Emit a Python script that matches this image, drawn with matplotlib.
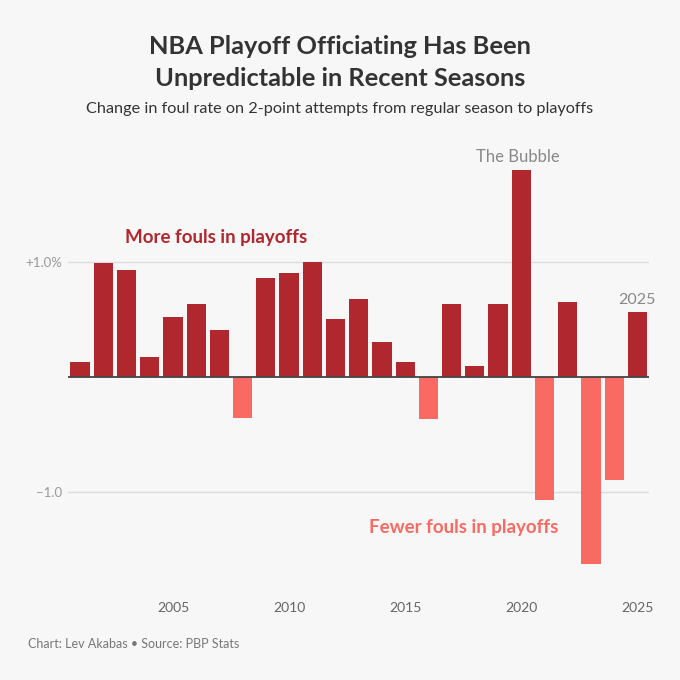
import matplotlib
matplotlib.use("Agg")
from matplotlib import pyplot as plt

# Change in foul rate on 2-point attempts (percentage points), playoffs minus regular season
seasons = list(range(2001, 2026))
change = [0.13, 0.99, 0.93, 0.17, 0.52, 0.63, 0.41, -0.36, 0.86, 0.90,
          1.00, 0.50, 0.68, 0.30, 0.13, -0.37, 0.63, 0.09, 0.63, 1.80,
          -1.07, 0.65, -1.63, -0.90, 0.56]
xtick_years = [2005, 2010, 2015, 2020, 2025]
ytick_vals = [-1.0, 1.0]
ytick_labels = ['\u22121.0', '+1.0%']

DARK = '#b0272e'
LIGHT = '#f96a62'
BG = '#f7f7f7'
FONT = 'Lato'

plt.rcParams['font.family'] = [FONT, 'DejaVu Sans']

fig = plt.figure(figsize=(6.8, 6.8), dpi=100, facecolor=BG)
ax = fig.add_axes([68 / 680, 1 - 578 / 680, 581 / 680, 425.5 / 680])
ax.set_facecolor(BG)

colors = [DARK if v >= 0 else LIGHT for v in change]
ax.bar(seasons, change, width=0.83, color=colors, zorder=3)

ax.set_xlim(2000.48, 2025.5)
ax.set_ylim(-1.75, 1.95)

for v in ytick_vals:
    ax.axhline(v, color='#dddddd', lw=1, zorder=1)
ax.axhline(0, color='#444444', lw=1.3, zorder=4)

ax.set_yticks(ytick_vals)
ax.set_yticklabels(ytick_labels, color='#999999', fontsize=9.5)
ax.set_xticks(xtick_years)
ax.set_xticklabels([str(y) for y in xtick_years], color='#666666', fontsize=10)
ax.tick_params(axis='both', length=0)
ax.tick_params(axis='x', pad=17)
ax.tick_params(axis='y', pad=4)
for s in ax.spines.values():
    s.set_visible(False)

# annotations
ax.text(2019.85, 1.845, 'The Bubble', ha='center', va='bottom', color='#888888', fontsize=12)
ax.text(2025, 0.61, '2025', ha='center', va='bottom', color='#888888', fontsize=11.5)
ax.text(2002.94, 1.21, 'More fouls in playoffs', ha='left', va='center',
        color=DARK, fontsize=13.5, fontweight='bold')
ax.text(2017.54, -1.31, 'Fewer fouls in playoffs', ha='center', va='center',
        color=LIGHT, fontsize=13.5, fontweight='bold')

fig.text(0.5, 1 - 46 / 680, 'NBA Playoff Officiating Has Been', ha='center', va='center',
         color='#333333', fontsize=18.3, fontweight='bold')
fig.text(0.5, 1 - 78 / 680, 'Unpredictable in Recent Seasons', ha='center', va='center',
         color='#333333', fontsize=18.3, fontweight='bold')
fig.text(0.5, 1 - 109 / 680,
         'Change in foul rate on 2-point attempts from regular season to playoffs',
         ha='center', va='center', color='#333333', fontsize=11.7)
fig.text(28 / 680, 1 - 644 / 680, 'Chart: Lev Akabas \u2022 Source: PBP Stats',
         ha='left', va='center', color='#777777', fontsize=9)

fig.savefig('out.png', dpi=100, facecolor=BG)
